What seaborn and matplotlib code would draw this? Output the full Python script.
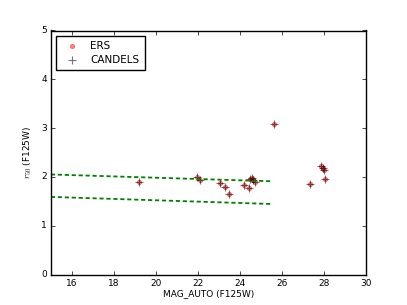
import matplotlib
matplotlib.use('Agg')
import matplotlib.pyplot as plt
import seaborn as sns
import numpy as np

# data
mag_auto = [19.19, 21.95, 22.08, 23.03, 23.27, 23.48, 24.17, 24.44, 24.48,
            24.57, 24.63, 24.71, 25.62, 27.32, 27.84, 27.94, 27.98, 28.03]
r50 = [1.89, 1.99, 1.93, 1.88, 1.79, 1.64, 1.84, 1.78, 1.95,
       1.97, 1.93, 1.89, 3.09, 1.86, 2.23, 2.18, 2.15, 1.95]

# selection boundaries (green dashed)
bound_x = [15.0, 25.5]
upper_y = [2.05, 1.91]
lower_y = [1.59, 1.445]

plt.style.use('classic')
plt.rcParams['font.family'] = ['DejaVu Sans']
plt.rcParams['font.size'] = 6.5

fig = plt.figure(figsize=(4.07, 3.05), dpi=100)
ax = fig.add_subplot(111)

ax.plot(bound_x, upper_y, color='green', linewidth=1.3, dashes=(3, 2))
ax.plot(bound_x, lower_y, color='green', linewidth=1.3, dashes=(3, 2))

sns.scatterplot(x=mag_auto, y=r50, ax=ax, marker='o', color='red', alpha=0.5,
                s=10, edgecolor='red', linewidth=0.5, label='ERS')
sns.scatterplot(x=mag_auto, y=r50, ax=ax, marker='+', color='black', alpha=0.55,
                s=40, linewidth=0.8, label='CANDELS')

ax.set_xlim(15, 30)
ax.set_ylim(0, 5)
ax.set_xlabel('MAG_AUTO (F125W)', fontsize=6.5, labelpad=1)
ax.set_ylabel('$r_{50}$ (F125W)', fontsize=6.5, labelpad=5)
ax.tick_params(labelsize=6.5, length=3, pad=3)
ax.legend(loc='upper left', scatterpoints=1, fontsize=7.5, frameon=True,
          borderpad=0.5, handletextpad=0.8, labelspacing=0.35)

fig.subplots_adjust(left=0.125, right=0.9, bottom=0.1, top=0.9)
fig.savefig('out.png', dpi=100)
